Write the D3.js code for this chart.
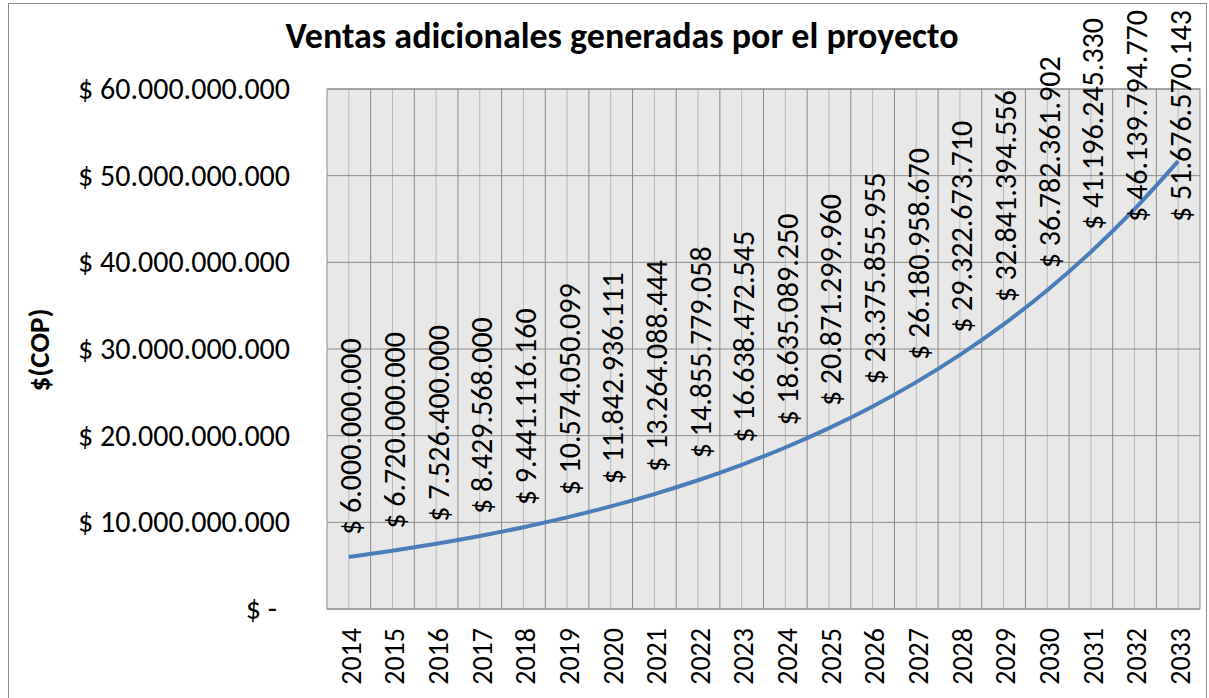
<!DOCTYPE html>
<html>
<head>
<meta charset="utf-8">
<script src="https://cdn.jsdelivr.net/npm/d3@7"></script>
<style>
  body { margin: 0; background: #fff; }
  text { font-family: Carlito, Lato, "Liberation Sans", sans-serif; fill: #000; }
</style>
</head>
<body>
<script>
// data
var years = ["2014", "2015", "2016", "2017", "2018", "2019", "2020", "2021", "2022", "2023",
             "2024", "2025", "2026", "2027", "2028", "2029", "2030", "2031", "2032", "2033"];
var ventas = [6000000000, 6720000000, 7526400000, 8429568000, 9441116160, 10574050099,
              11842936111, 13264088444, 14855779058, 16638472545, 18635089250, 20871299960,
              23375855955, 26180958670, 29322673710, 32841394556, 36782361902, 41196245330,
              46139794770, 51676570143];
var yTicks = [0, 10000000000, 20000000000, 30000000000, 40000000000, 50000000000, 60000000000];
var title = "Ventas adicionales generadas por el proyecto";
var yTitle = "$(COP)";

function init() {
    var w = 1209, h = 698;
    var left = 327, right = 1200, top = 89, bottom = 609;

    var svg = d3.select("body").append("svg")
        .attr("width", w)
        .attr("height", h);

    // outer chart border
    svg.append("rect")
        .attr("x", 8.5).attr("y", 3.5)
        .attr("width", 1198).attr("height", 720)
        .attr("fill", "#fff")
        .attr("stroke", "#8c8c8c");

    var data = years.map(function (y, i) { return { year: y, v: ventas[i] }; });

    var xBand = d3.scaleBand().domain(years).range([left, right]);
    var xScale = function (y) { return xBand(y) + xBand.bandwidth() / 2; };

    var yScale = d3.scaleLinear()
        .domain([0, 60000000000])
        .range([bottom, top]);

    var es = d3.formatLocale({ decimal: ",", thousands: ".", grouping: [3], currency: ["$", ""] });
    var fmt = es.format(",.0f");
    var money = function (d) { return d === 0 ? "$ -" : "$ " + fmt(d); };

    // plot background
    svg.append("rect")
        .attr("x", left).attr("y", top)
        .attr("width", right - left).attr("height", bottom - top)
        .attr("fill", "#e8e8e8");

    // light lines through the category centres
    svg.append("g").selectAll("line")
        .data(years)
        .enter().append("line")
        .attr("x1", function (d) { return xScale(d); })
        .attr("x2", function (d) { return xScale(d); })
        .attr("y1", top).attr("y2", bottom)
        .attr("stroke", "#b8b8b8")
        .attr("stroke-width", 1);

    // darker category boundaries
    svg.append("g").selectAll("line")
        .data(years.slice(1))
        .enter().append("line")
        .attr("x1", function (d) { return xBand(d); })
        .attr("x2", function (d) { return xBand(d); })
        .attr("y1", top).attr("y2", bottom)
        .attr("stroke", "#8a8a8a")
        .attr("stroke-width", 1);

    // horizontal gridlines
    svg.append("g").selectAll("line")
        .data(yTicks)
        .enter().append("line")
        .attr("x1", left).attr("x2", right)
        .attr("y1", function (d) { return yScale(d); })
        .attr("y2", function (d) { return yScale(d); })
        .attr("stroke", "#8a8a8a")
        .attr("stroke-width", 1);

    // plot border
    svg.append("rect")
        .attr("x", left).attr("y", top)
        .attr("width", right - left).attr("height", bottom - top)
        .attr("fill", "none")
        .attr("stroke", "#8a8a8a");

    // Y axis
    var yAxis = d3.axisLeft(yScale).tickValues(yTicks).tickSize(0).tickPadding(0).tickFormat(money);
    var gy = svg.append("g")
        .attr("transform", "translate(290,0)")
        .call(yAxis);
    gy.select(".domain").remove();
    gy.selectAll("text")
        .attr("font-size", "30px")
        .attr("font-family", null)
        .attr("dx", function (d) { return d === 0 ? -13 : 0; });

    // X axis, labels rotated
    var xAxis = d3.axisBottom(xBand).tickSize(0).tickPadding(0);
    var gx = svg.append("g")
        .attr("transform", "translate(0," + bottom + ")")
        .call(xAxis);
    gx.select(".domain").remove();
    gx.selectAll("text")
        .attr("font-size", "28px")
        .attr("font-family", null)
        .attr("text-anchor", "end")
        .attr("transform", "translate(2,19) rotate(-90)")
        .attr("x", 0).attr("y", 0)
        .attr("dy", "0.35em");

    // the line
    var line = d3.line()
        .x(function (d) { return xScale(d.year); })
        .y(function (d) { return yScale(d.v); })
        .curve(d3.curveCatmullRom);

    svg.append("path")
        .datum(data)
        .attr("d", line)
        .attr("fill", "none")
        .attr("stroke", "#4a7ebb")
        .attr("stroke-width", 4);

    // data labels, vertical, kept inside the chart
    var labels = svg.append("g").selectAll("text")
        .data(data)
        .enter().append("text")
        .attr("font-size", "30px")
        .attr("text-anchor", "start")
        .attr("dy", "0.35em")
        .text(function (d) { return money(d.v); });

    labels.attr("transform", function (d) {
        var len = this.getComputedTextLength();
        var yStart = Math.max(yScale(d.v) - 22, 10 + len);
        return "translate(" + (xScale(d.year) + 2) + "," + yStart + ") rotate(-90)";
    });

    // title
    svg.append("text")
        .attr("x", 622).attr("y", 48)
        .attr("text-anchor", "middle")
        .attr("font-size", "36px")
        .attr("font-weight", "bold")
        .text(title);

    // y axis title
    svg.append("text")
        .attr("transform", "translate(49,350) rotate(-90)")
        .attr("text-anchor", "middle")
        .attr("font-size", "29px")
        .attr("font-weight", "bold")
        .text(yTitle);
}

window.onload = init;
</script>
</body>
</html>
